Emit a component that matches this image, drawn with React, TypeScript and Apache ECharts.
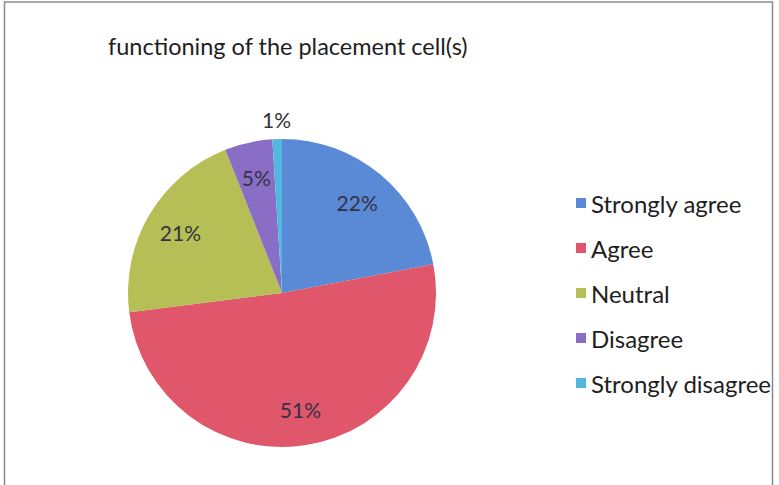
import React, { useEffect, useRef } from "react";
import * as echarts from "echarts";

const categories = ["Strongly agree", "Agree", "Neutral", "Disagree", "Strongly disagree"];
const values = [22, 51, 21, 5, 1];
const colors = ["#5a8ad6", "#e0566a", "#b5bf55", "#8a6ec6", "#52b8e0"];
const titleText = "functioning of the placement cell(s)";
const outsideLabelItems = ["Strongly disagree"];

export default function App() {
  const ref = useRef<HTMLDivElement>(null);
  useEffect(() => {
    document.body.style.margin = "0";
    const chart = echarts.init(ref.current!, null, { renderer: "svg" });
    const center = [282, 293];
    const r = 154;
    const font = "Lato, Carlito, 'Noto Sans', sans-serif";
    const mainData = categories.map((name, i) => ({
      name,
      value: values[i],
      itemStyle: { color: colors[i] },
    }));
    const innerLabelData = categories.map((name, i) => ({
      name,
      value: values[i],
      label: { show: !outsideLabelItems.includes(name) },
    }));
    const outerLabelData = categories.map((name, i) => ({
      name,
      value: values[i],
      label: { show: outsideLabelItems.includes(name) },
    }));
    const overlayCommon = {
      type: "pie",
      center,
      startAngle: 90,
      clockwise: true,
      silent: true,
      avoidLabelOverlap: false,
      itemStyle: { color: "rgba(0,0,0,0)" },
      emphasis: { disabled: true },
      labelLine: { show: false },
    };
    chart.setOption({
      animation: false,
      backgroundColor: "#ffffff",
      title: {
        text: titleText,
        left: 103,
        top: 29,
        textStyle: { fontFamily: font, fontSize: 23.5, fontWeight: "normal", color: "#1e1e1e" },
      },
      legend: {
        orient: "vertical",
        left: 571,
        top: 186,
        icon: "rect",
        itemWidth: 10,
        itemHeight: 10,
        itemGap: 21,
        selectedMode: false,
        data: categories.map((name, i) => ({ name, itemStyle: { color: colors[i] } })),
        textStyle: { fontFamily: font, fontSize: 24, color: "#1e1e1e", lineHeight: 24 },
      },
      graphic: [
        {
          type: "rect",
          shape: { x: 4.5, y: 2, width: 768, height: 520 },
          style: { fill: "none", stroke: "#8a8a8a", lineWidth: 1.5 },
          silent: true,
        },
      ],
      series: [
        {
          type: "pie",
          center,
          radius: [0, r],
          startAngle: 90,
          clockwise: true,
          label: { show: false },
          labelLine: { show: false },
          emphasis: { disabled: true },
          data: mainData,
        },
        {
          ...overlayCommon,
          radius: [76, r],
          label: {
            position: "inside",
            formatter: "{c}%",
            fontFamily: font,
            fontSize: 21,
            color: "#333344",
          },
          data: innerLabelData,
        },
        {
          ...overlayCommon,
          radius: [r, 188],
          label: {
            position: "inside",
            formatter: "{c}%",
            fontFamily: font,
            fontSize: 21,
            color: "#333333",
          },
          data: outerLabelData,
        },
      ],
    });
    return () => chart.dispose();
  }, []);
  return <div ref={ref} style={{ width: 779, height: 485 }} />;
}
